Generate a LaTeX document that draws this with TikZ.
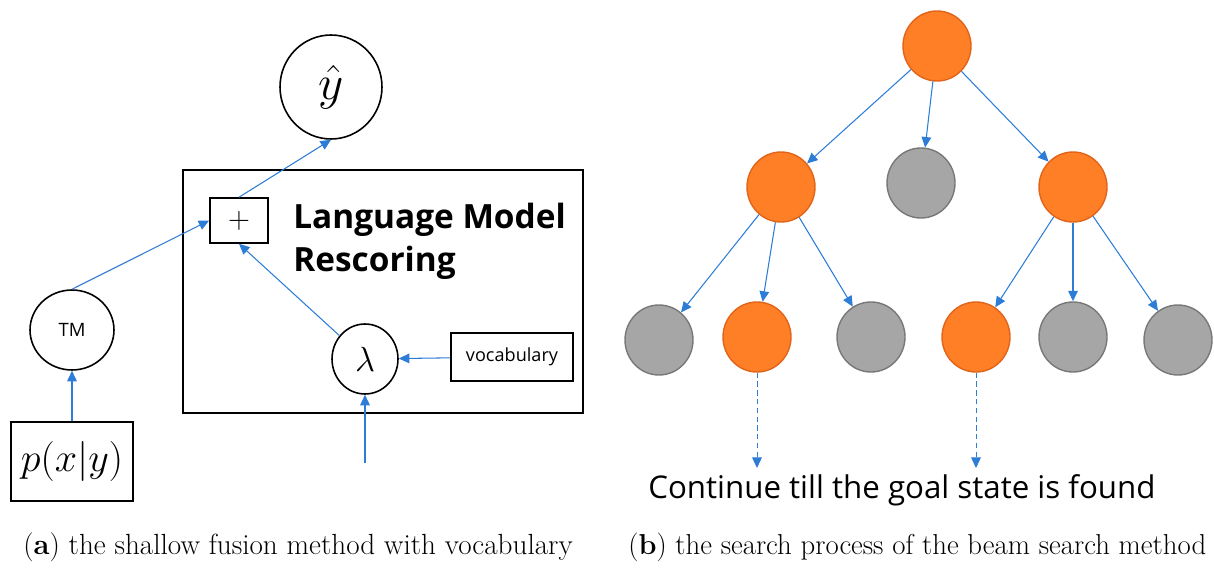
\documentclass[tikz,border=0pt]{standalone}
\usepackage{graphicx}
\usepackage{fontspec}
\setsansfont{Open Sans}
\usetikzlibrary{arrows.meta,shapes.geometric}
\definecolor{lineblue}{RGB}{45,125,215}
\definecolor{beamorange}{RGB}{255,127,39}
\definecolor{beamedge}{RGB}{225,100,25}
\definecolor{prunegray}{RGB}{166,166,166}
\definecolor{prunedge}{RGB}{120,120,120}

\begin{document}
\begin{tikzpicture}[x=0.02cm, y=-0.02cm, >={Triangle[length=6pt,width=5.5pt]},
    flow/.style={->, lineblue, line width=0.6pt},
    roundnode/.style={ellipse, draw, line width=0.9pt, inner sep=0pt},
    boxnode/.style={rectangle, draw, line width=0.9pt, inner sep=0pt},
    kept/.style={ellipse, fill=beamorange, draw=beamedge, line width=0.8pt, minimum width=1.36cm, minimum height=1.4cm},
    pruned/.style={kept, fill=prunegray, draw=prunedge}]
    \useasboundingbox (0,0) rectangle (1214,574);

    % 浅融合
    \node[boxnode, minimum width=8cm, minimum height=4.86cm] (lm) at (383,291.5) {};
    \node[roundnode, minimum width=2.04cm, minimum height=2.08cm] (yhat) at (331,87) {\scalebox{1.35}{\fontsize{20}{24}\selectfont$\hat{y}$}};
    \node[boxnode, minimum width=1.16cm, minimum height=0.9cm] (plus) at (239,220.5) {\fontsize{17}{20}\selectfont$+$};
    \node[anchor=north west, align=left, inner sep=0pt, font=\sffamily\bfseries\fontsize{19}{24.5}\selectfont] (lmtext) at (293,203) {Language Model\\Rescoring};
    \node[roundnode, minimum width=1.68cm, minimum height=1.6cm, font=\sffamily\fontsize{10.5}{12}\selectfont] (tm) at (72,330) {TM};
    \node[boxnode, minimum width=2.44cm, minimum height=1.58cm] (pxy) at (72,461.5) {\raisebox{-4pt}{\scalebox{1.1}{\fontsize{21}{24}\selectfont$p(x|y)$}}};
    \node[roundnode, minimum width=1.32cm, minimum height=1.4cm] (lambda) at (365,359) {\scalebox{1.15}{\fontsize{18}{20}\selectfont$\lambda$}};
    \node[boxnode, minimum width=2.44cm, minimum height=0.96cm, font=\sffamily\fontsize{10.3}{12}\selectfont] (vocab) at (512,357) {vocabulary};
    \coordinate (lmin) at (365,463);

    \draw[flow] (pxy) -- (tm); \draw[flow] (tm.north) -- (plus.west);
    \draw[flow] (plus.north) -- (yhat.south); \draw[flow] (lambda) -- (plus.south);
    \draw[flow] (vocab) -- (lambda); \draw[flow] (lmin) -- (lambda);

    % 束搜索树
    \node[kept] (root) at (937,46) {};
    \node[kept] (a) at (781,187) {};
    \node[pruned] (b) at (921,183) {};
    \node[kept] (c) at (1073,187) {};
    \node[pruned] (a1) at (659,340) {};
    \node[kept] (a2) at (757,337) {};
    \node[pruned] (a3) at (871,337) {};
    \node[kept] (c1) at (976,337) {};
    \node[pruned] (c2) at (1073,337) {};
    \node[pruned] (c3) at (1178,340) {};

    \draw[flow] (root) -- (a); \draw[flow] (root) -- (b); \draw[flow] (root) -- (c);
    \draw[flow] (a) -- (a1); \draw[flow] (a) -- (a2); \draw[flow] (a) -- (a3);
    \draw[flow] (c) -- (c1); \draw[flow] (c) -- (c2); \draw[flow] (c) -- (c3);

    % 继续扩展
    \coordinate (ga) at (757,468);
    \coordinate (gc) at (976,468);
    \draw[flow, densely dashed, line width=0.5pt] (a2) -- (ga);
    \draw[flow, densely dashed, line width=0.5pt] (c1) -- (gc);
    \node[anchor=base west, inner sep=0pt, font=\sffamily\fontsize{17.8}{20}\selectfont] (goal) at (648,498) {Continue till the goal state is found};

    % 子图标题
    \node[anchor=base west, inner sep=0pt, font=\fontsize{16.6}{19}\selectfont] (capa) at (23,554) {(\textbf{a}) the shallow fusion method with vocabulary};
    \node[anchor=base west, inner sep=0pt, font=\fontsize{16.4}{19}\selectfont] (capb) at (628,554) {(\textbf{b}) the search process of the beam search method};
\end{tikzpicture}
\end{document}
